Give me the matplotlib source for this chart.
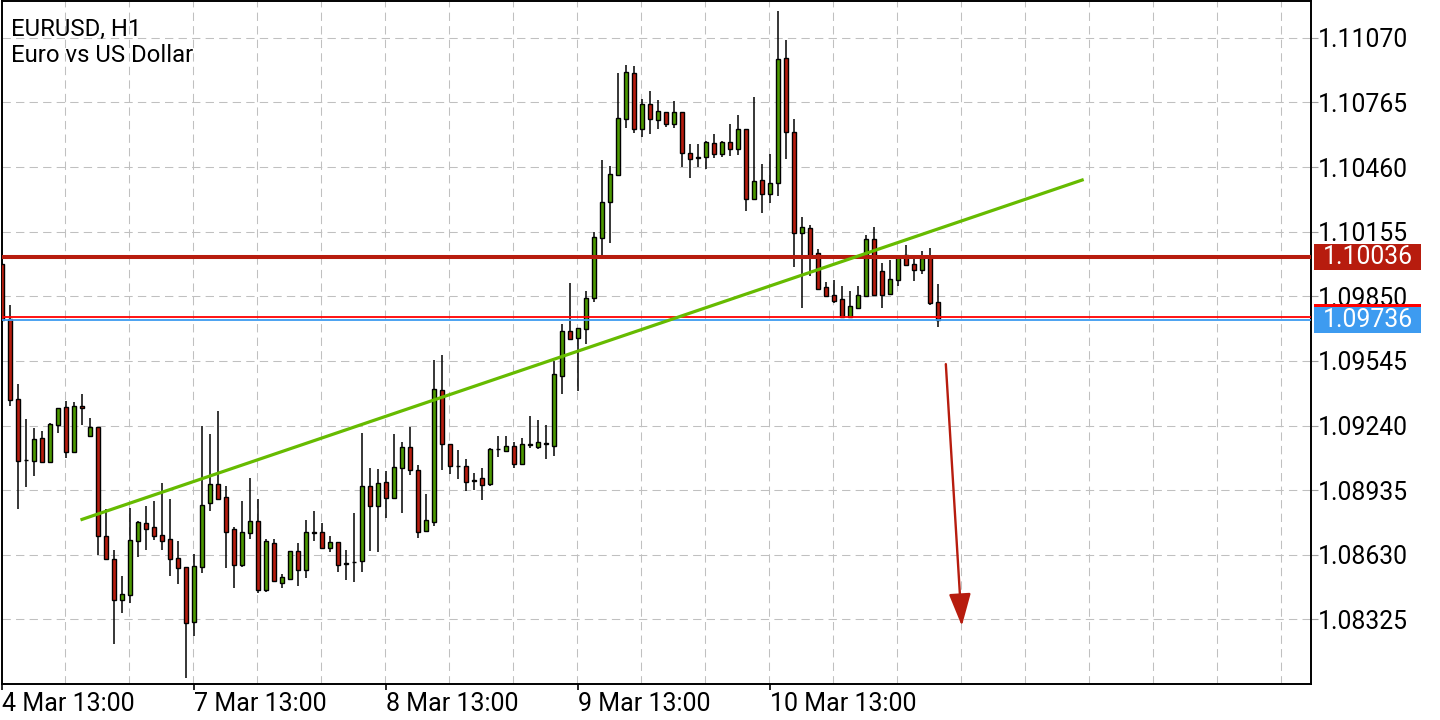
import numpy as np
import matplotlib.pyplot as plt
from matplotlib.patches import Rectangle
from matplotlib.transforms import blended_transform_factory, IdentityTransform

plt.rcParams['font.family'] = ['Roboto', 'DejaVu Sans']

symbol = 'EURUSD, H1'
description = 'Euro vs US Dollar'

# hourly OHLC, first bar = 4 Mar 13:00
opens = [1.10002, 1.09741, 1.09364, 1.09077, 1.09072, 1.09180, 1.09066, 1.09242, 1.09326, 1.09114,
         1.09331, 1.09191, 1.09234, 1.08720, 1.08608, 1.08416, 1.08440, 1.08695, 1.08781, 1.08759,
         1.08722, 1.08703, 1.08613, 1.08571, 1.08311, 1.08573, 1.08873, 1.08962, 1.08901, 1.08750,
         1.08583, 1.08731, 1.08788, 1.08463, 1.08684, 1.08496, 1.08515, 1.08649, 1.08558, 1.08736,
         1.08736, 1.08660, 1.08689, 1.08591, 1.08597, 1.08600, 1.08954, 1.08861, 1.08972, 1.08896,
         1.09038, 1.09140, 1.09031, 1.08741, 1.08786, 1.09409, 1.09154, 1.09049, 1.09050, 1.08983,
         1.08991, 1.08965, 1.09129, 1.09120, 1.09145, 1.09057, 1.09148, 1.09140, 1.09157, 1.09145,
         1.09475, 1.09685, 1.09652, 1.09694, 1.09841, 1.10127, 1.10294, 1.10423, 1.10686, 1.10903,
         1.10638, 1.10756, 1.10682, 1.10722, 1.10663, 1.10722, 1.10528, 1.10506, 1.10506, 1.10572,
         1.10520, 1.10577, 1.10545, 1.10638, 1.10308, 1.10399, 1.10332, 1.10384, 1.10974, 1.10624,
         1.10147, 1.10171, 1.10053, 1.09892, 1.09856, 1.09837, 1.09754, 1.09796, 1.09851, 1.10119,
         1.09969, 1.09861, 1.09927, 1.10045, 1.10001, 1.09974, 1.10037, 1.09825]
highs = [1.10012, 1.09809, 1.09435, 1.09271, 1.09227, 1.09214, 1.09252, 1.09321, 1.09356, 1.09350,
         1.09389, 1.09276, 1.09234, 1.08844, 1.08652, 1.08530, 1.08852, 1.08789, 1.08860, 1.08884,
         1.08969, 1.08893, 1.08695, 1.08571, 1.08633, 1.09238, 1.09200, 1.09309, 1.08953, 1.08762,
         1.08884, 1.08992, 1.08893, 1.08704, 1.08704, 1.08538, 1.08649, 1.08684, 1.08794, 1.08836,
         1.08780, 1.08717, 1.08689, 1.08652, 1.08827, 1.09205, 1.09041, 1.09035, 1.09025, 1.09199,
         1.09161, 1.09232, 1.09052, 1.08917, 1.09549, 1.09573, 1.09154, 1.09124, 1.09082, 1.09014,
         1.09038, 1.09132, 1.09191, 1.09191, 1.09162, 1.09180, 1.09285, 1.09266, 1.09242, 1.09545,
         1.09719, 1.09913, 1.09699, 1.09875, 1.10154, 1.10493, 1.10464, 1.10906, 1.10942, 1.10937,
         1.10782, 1.10819, 1.10777, 1.10722, 1.10772, 1.10722, 1.10569, 1.10569, 1.10583, 1.10615,
         1.10583, 1.10663, 1.10706, 1.10638, 1.10790, 1.10475, 1.10522, 1.11197, 1.11060, 1.10687,
         1.10224, 1.10187, 1.10073, 1.09918, 1.09927, 1.09899, 1.09875, 1.09899, 1.10139, 1.10177,
         1.10006, 1.10021, 1.10037, 1.10092, 1.10026, 1.10064, 1.10077, 1.09907]
lows = [1.09729, 1.09334, 1.08847, 1.08951, 1.09003, 1.09064, 1.09066, 1.09206, 1.09088, 1.09114,
        1.09244, 1.09191, 1.08627, 1.08610, 1.08207, 1.08353, 1.08401, 1.08621, 1.08652, 1.08700,
        1.08652, 1.08530, 1.08492, 1.08049, 1.08246, 1.08545, 1.08838, 1.08888, 1.08569, 1.08474,
        1.08573, 1.08706, 1.08448, 1.08455, 1.08501, 1.08474, 1.08512, 1.08484, 1.08522, 1.08695,
        1.08660, 1.08641, 1.08550, 1.08512, 1.08503, 1.08550, 1.08649, 1.08644, 1.08805, 1.08896,
        1.08826, 1.09008, 1.08710, 1.08741, 1.08767, 1.09031, 1.09013, 1.08989, 1.08932, 1.08936,
        1.08888, 1.08956, 1.09093, 1.09116, 1.09041, 1.09057, 1.09135, 1.09129, 1.09082, 1.09097,
        1.09390, 1.09647, 1.09403, 1.09626, 1.09825, 1.10045, 1.10103, 1.10423, 1.10643, 1.10622,
        1.10604, 1.10615, 1.10638, 1.10648, 1.10643, 1.10462, 1.10407, 1.10462, 1.10450, 1.10504,
        1.10509, 1.10512, 1.10517, 1.10254, 1.10308, 1.10245, 1.10292, 1.10325, 1.10498, 1.09990,
        1.09793, 1.09947, 1.09884, 1.09851, 1.09820, 1.09754, 1.09754, 1.09789, 1.09851, 1.09856,
        1.09796, 1.09861, 1.09899, 1.09998, 1.09924, 1.09954, 1.09809, 1.09704]
closes = [1.09738, 1.09360, 1.09072, 1.09075, 1.09175, 1.09066, 1.09249, 1.09321, 1.09114, 1.09331,
          1.09323, 1.09234, 1.08718, 1.08610, 1.08416, 1.08443, 1.08698, 1.08783, 1.08751, 1.08718,
          1.08693, 1.08608, 1.08566, 1.08306, 1.08578, 1.08863, 1.08962, 1.08893, 1.08739, 1.08581,
          1.08739, 1.08788, 1.08463, 1.08693, 1.08506, 1.08523, 1.08649, 1.08558, 1.08736, 1.08734,
          1.08660, 1.08689, 1.08581, 1.08588, 1.08595, 1.08954, 1.08861, 1.08967, 1.08899, 1.09043,
          1.09140, 1.09030, 1.08736, 1.08793, 1.09414, 1.09151, 1.09047, 1.09047, 1.08972, 1.08978,
          1.08959, 1.09129, 1.09127, 1.09145, 1.09057, 1.09154, 1.09153, 1.09161, 1.09153, 1.09482,
          1.09685, 1.09647, 1.09699, 1.09841, 1.10129, 1.10297, 1.10426, 1.10690, 1.10908, 1.10638,
          1.10756, 1.10687, 1.10726, 1.10663, 1.10722, 1.10525, 1.10498, 1.10503, 1.10577, 1.10520,
          1.10577, 1.10545, 1.10638, 1.10308, 1.10396, 1.10332, 1.10386, 1.10969, 1.10624, 1.10147,
          1.10175, 1.10037, 1.09884, 1.09851, 1.09829, 1.09754, 1.09804, 1.09855, 1.10119, 1.09856,
          1.09856, 1.09932, 1.10037, 1.09998, 1.09974, 1.10029, 1.09817, 1.09736]

date_ticks = [0, 24, 48, 72, 96]
date_labels = ['4 Mar 13:00', '7 Mar 13:00', '8 Mar 13:00', '9 Mar 13:00', '10 Mar 13:00']
price_ticks = [1.08325, 1.08630, 1.08935, 1.09240, 1.09545, 1.09850, 1.10155, 1.10460, 1.10765, 1.11070]

level = 1.10036
bid = 1.09736
ask = 1.09754

# trend line and forecast arrow (bar index, price)
trend_x = [10, 135]
trend_y = [1.08797, 1.10399]
arrow_x = [117.96, 119.96]
arrow_y = [1.09530, 1.08294]

red = '#B71C0E'
green = '#4C9900'

fig = plt.figure(figsize=(14.4, 7.2), dpi=100)
ax = fig.add_axes([2 / 1440, 1 - 684 / 720, 1309 / 1440, 683 / 720])
ymin, ymax = 1.08020, 1.11244
ax.set_xlim(0, 163.6)
ax.set_ylim(ymin, ymax)

# grid
ax.set_xticks(np.arange(7.875, 163, 8), minor=True)
ax.grid(which='minor', axis='x', color='#C0C0C0', lw=0.75, linestyle=(0, (8, 5)))
ax.grid(which='major', axis='y', color='#C0C0C0', lw=0.75, linestyle=(0, (8, 5)))
ax.set_axisbelow(True)
ax.tick_params(which='minor', length=0)

# candles
x = np.arange(len(closes))
o = np.array(opens)
c = np.array(closes)
colors = [green if cc >= oo else red for oo, cc in zip(o, c)]
ax.vlines(x, lows, highs, color='black', lw=1.1, zorder=2)
ax.bar(x, c - o, bottom=o, width=0.58, color=colors, edgecolor='black', linewidth=1.0, zorder=3)

# lines
ax.axhline(level, color=red, lw=2.9, zorder=4)
ax.axhline(ask, color='#FF0000', lw=1.3, zorder=4)
ax.axhline(bid, color='#3D9BF0', lw=1.3, zorder=4)
ax.plot(trend_x, trend_y, color='#66BB00', lw=2.3, zorder=5)
ax.annotate('', xy=(arrow_x[1], arrow_y[1]), xytext=(arrow_x[0], arrow_y[0]),
            arrowprops=dict(arrowstyle='-|>,head_length=1.0,head_width=0.34', color=red,
                            lw=1.7, shrinkA=0, shrinkB=0, mutation_scale=20), zorder=5)

# axes
for s in ax.spines.values():
    s.set_linewidth(1.4)
ax.yaxis.tick_right()
ax.set_yticks(price_ticks, [f'{p:.5f}' for p in price_ticks])
ax.tick_params(axis='y', which='major', length=5, color='#A0A0A0', pad=0, labelsize=17.8)
ax.set_xticks(date_ticks, date_labels)
ax.tick_params(axis='x', which='major', length=4, width=1.2, pad=2, labelsize=18)
for lbl in ax.get_xticklabels():
    lbl.set_ha('left')

# price labels on the right scale
px = (ymax - ymin) / 683
tr = blended_transform_factory(IdentityTransform(), ax.transData)
for price, col, z in [(ask, '#FF0000', 10), (level, red, 12), (bid, '#3D9BF0', 14)]:
    ax.add_patch(Rectangle((1314, price - 13 * px), 107, 26 * px, transform=tr,
                           facecolor=col, edgecolor='none', clip_on=False, zorder=z))
    if price != ask:
        ax.text(1367.5, price, f'{price:.5f}', transform=tr, ha='center', va='center',
                color='white', fontsize=17.8, zorder=z + 1, clip_on=False)

fig.text(11 / 1440, 1 - 36 / 720, symbol, fontsize=17.2, va='baseline')
fig.text(11 / 1440, 1 - 62 / 720, description, fontsize=17.2, va='baseline')

fig.savefig('out.png', dpi=100, facecolor='white')
